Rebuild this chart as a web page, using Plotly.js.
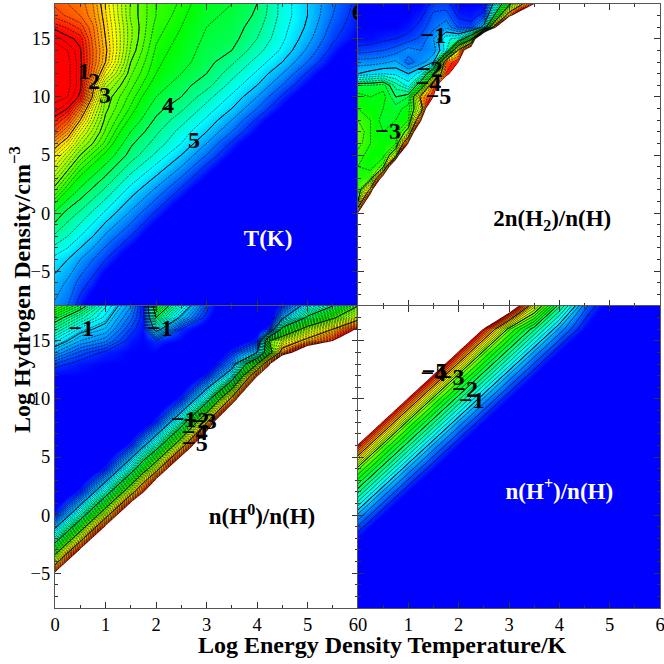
<!DOCTYPE html>
<html><head><meta charset="utf-8">
<script src="https://cdn.plot.ly/plotly-3.0.1.min.js"></script>
<style>html,body{margin:0;padding:0;background:#fff}#c{width:664px;height:664px}</style>
</head><body><div id="c"></div>
<script>
var xT=[0,.25,.5,.75,1,1.5,2,2.5,3,3.5,4,4.5,5,5.5,6];
var yT=[-8,-6,-4,-2,0,2,4,5,6,7,8,9,10,11,12,13,14,15,16,17,18];
var zT=[
[5.3,5.5,5.9,6.3,6.9,7.4,7.4,7.4,7.4,7.4,7.4,7.4,7.4,7.4,7.4],
[5.1,5.3,5.6,5.85,6.3,6.9,7.4,7.4,7.4,7.4,7.4,7.4,7.4,7.4,7.4],
[4.85,5,5.25,5.5,5.75,6.35,6.9,7.4,7.4,7.4,7.4,7.4,7.4,7.4,7.4],
[4.3,4.5,4.75,5,5.3,5.75,6.35,6.9,7.4,7.4,7.4,7.4,7.4,7.4,7.4],
[3.8,4.1,4.3,4.55,4.8,5.3,5.8,6.35,6.9,7.4,7.4,7.4,7.4,7.4,7.4],
[3.1,3.5,3.8,4.05,4.3,4.85,5.3,5.8,6.35,6.9,7.4,7.4,7.4,7.4,7.4],
[2.5,2.9,3.3,3.55,3.8,4.35,4.8,5.25,5.8,6.35,6.9,7.4,7.4,7.4,7.4],
[2.2,2.6,3,3.3,3.55,4.1,4.55,5,5.5,6.05,6.6,7.1,7.4,7.4,7.4],
[1.85,2.2,2.7,3,3.3,3.95,4.35,4.75,5.25,5.8,6.35,6.9,7.4,7.4,7.4],
[1.4,1.8,2.4,2.8,3.15,3.75,4.2,4.6,5,5.5,6.05,6.6,7.1,7.4,7.4],
[1.1,1.4,2,2.6,3.05,3.55,4.05,4.4,4.8,5.25,5.8,6.35,6.9,7.4,7.4],
[.8,1,1.6,2.4,2.95,3.4,3.9,4.2,4.6,5,5.5,6.05,6.6,7.1,7.4],
[.7,.75,1.05,2.05,2.9,3.3,3.75,4,4.4,4.8,5.25,5.8,6.35,6.9,7.4],
[.65,.7,.95,1.9,2.7,3.2,3.6,3.9,4.15,4.6,5,5.5,6.05,6.6,7.1],
[.65,.7,.95,1.6,2.3,3.1,3.5,3.75,4,4.4,4.8,5.25,5.8,6.35,6.9],
[.65,.7,.95,1.5,2,3,3.45,3.65,3.9,4.2,4.6,5,5.5,6.05,6.6],
[.65,.75,.98,1.5,1.95,2.9,3.4,3.6,3.85,4,4.4,4.8,5.3,5.85,6.35],
[.8,.95,1.05,1.55,2,2.85,3.35,3.55,3.8,3.9,4.25,4.7,5.15,5.7,6.05],
[1.05,1.15,1.3,1.6,2.05,2.85,3.3,3.5,3.75,3.85,4.15,4.65,5.05,5.6,5.95],
[1.3,1.4,1.5,1.7,2.1,2.9,3.25,3.45,3.7,3.8,4.05,4.6,5,5.5,5.9],
[1.4,1.5,1.55,1.75,2.15,2.9,3.25,3.4,3.65,3.75,4,4.6,5,5.45,5.85]];

var xH2=[0,.25,.5,.75,1,1.25,1.5,1.75,2,2.25,2.5,3,3.5,4,6];
var yH2=[-8,-1,0,1,2,3,4,5,6,7,8,9,10,11,12,13,14,15,16,17,18];
var zH2=[
[-9,-9,-9,-9,-9,-9,-9,-9,-9,-9,-9,-9,-9,-9,-9],
[-9,-9,-9,-9,-9,-9,-9,-9,-9,-9,-9,-9,-9,-9,-9],
[-5,-9,-9,-9,-9,-9,-9,-9,-9,-9,-9,-9,-9,-9,-9],
[-3,-6.3,-9,-9,-9,-9,-9,-9,-9,-9,-9,-9,-9,-9,-9],
[-2.7,-4.2,-9,-9,-9,-9,-9,-9,-9,-9,-9,-9,-9,-9,-9],
[-2.6,-2.8,-5.5,-9,-9,-9,-9,-9,-9,-9,-9,-9,-9,-9,-9],
[-2.6,-2.5,-2.9,-7,-9,-9,-9,-9,-9,-9,-9,-9,-9,-9,-9],
[-2.7,-2.5,-2.5,-3.5,-9,-9,-9,-9,-9,-9,-9,-9,-9,-9,-9],
[-2.9,-2.6,-2.5,-2.6,-5,-9,-9,-9,-9,-9,-9,-9,-9,-9,-9],
[-3,-2.6,-2.4,-2.5,-3.2,-7,-9,-9,-9,-9,-9,-9,-9,-9,-9],
[-2.8,-2.6,-2.3,-2.4,-2.6,-4.8,-9,-9,-9,-9,-9,-9,-9,-9,-9],
[-2.6,-2.5,-2.4,-2.3,-2.5,-3.6,-7,-9,-9,-9,-9,-9,-9,-9,-9],
[-2.5,-2.4,-2.5,-2,-2.2,-4.2,-5,-9,-9,-9,-9,-9,-9,-9,-9],
[-2.2,-2.2,-2.3,-1.7,-1.3,-2.4,-4.7,-5.7,-9,-9,-9,-9,-9,-9,-9],
[-1,-1.1,-1.2,-1.15,-1,-1.3,-2.8,-4.8,-5.5,-9,-9,-9,-9,-9,-9],
[-.7,-.7,-.75,-.85,-.5,-.7,-1,-4.6,-5,-9,-9,-9,-9,-9,-9],
[-.3,-.35,-.4,-.5,-.7,-.6,-.7,-1.3,-4.2,-6,-9,-9,-9,-9,-9],
[-.05,-.05,-.15,-.2,-.3,-.45,-.8,-1.35,-1.5,-2.8,-9,-9,-9,-9,-9],
[0,0,0,0,-.1,-.3,-.55,-.75,-.35,-.3,-1.2,-9,-9,-9,-9],
[0,0,0,0,0,-.15,-.45,-.5,-.15,-.1,-.3,-4.5,-9,-9,-9],
[0,0,0,0,0,0,-.3,-.3,0,0,0,-2.8,-5,-9,-9]];

var xH0=[0,.5,1,1.5,1.75,2,2.5,3,3.5,4,4.25,4.5,5,5.5,6];
var yH0=[-8,-6,-4,-2,0,2,4,6,8,10,12,13,14,15,16,17,18];
var zH0=[
[-9,-9,-9,-9,-9,-9,-9,-9,-9,-9,-9,-9,-9,-9,-9],
[-6.6,-9,-9,-9,-9,-9,-9,-9,-9,-9,-9,-9,-9,-9,-9],
[-3.6,-6.6,-9,-9,-9,-9,-9,-9,-9,-9,-9,-9,-9,-9,-9],
[-1.6,-3.6,-6.6,-9,-9,-9,-9,-9,-9,-9,-9,-9,-9,-9,-9],
[-.2,-1.6,-3.6,-6.6,-8,-9,-9,-9,-9,-9,-9,-9,-9,-9,-9],
[.6,-.2,-1.6,-3.6,-4.9,-6.6,-9,-9,-9,-9,-9,-9,-9,-9,-9],
[1.2,.6,-.2,-1.6,-2.6,-3.6,-6.6,-9,-9,-9,-9,-9,-9,-9,-9],
[1.2,1.2,.6,-.2,-.9,-1.6,-3.6,-6.6,-9,-9,-9,-9,-9,-9,-9],
[1.2,1.2,1.2,.6,.3,-.2,-1.6,-3.9,-7.5,-9,-9,-9,-9,-9,-9],
[1.2,1.2,1.2,.8,.8,.6,-.2,-1.6,-4.2,-8,-9,-9,-9,-9,-9],
[0,0,.1,.2,.2,.2,.6,-.2,-1.4,-4.9,-6,-9,-9,-9,-9],
[-.3,-.1,0,0,0,0,.6,.3,-.7,-3,-4.9,-7,-9,-9,-9],
[-.8,-.4,-.15,0,0,0,.6,.6,-.2,-1,-2.7,-4.3,-6,-9,-9],
[-1.2,-.8,-.6,-.1,0,-.2,0,.6,.3,-.2,-3,-3.5,-4.2,-4.95,-7],
[-1.7,-1.1,-.9,-.3,-.05,-1.2,-.2,.2,.6,.2,-.3,-2.2,-3.3,-4,-5.1],
[-2.2,-1.6,-1.1,-.5,-.1,-2,-.9,-.1,.6,.6,.2,-.9,-2.1,-2.9,-3.7],
[-2.8,-2.2,-1.3,-.7,-.05,-2.6,-1.4,-.3,.6,.6,.3,-.2,-1.3,-2,-3]];

var xHp=[0,.5,1,1.5,2,2.5,3,3.5,4,4.5,5,5.5,6];
var yHp=[-8,-6,-4,-2,0,2,4,6,8,10,12,14,16,18];
var zHp=[
[1.5,1.5,1.5,1.5,1.5,1.5,1.5,1.5,1.5,1.5,1.5,1.5,1.5],
[1.5,1.5,1.5,1.5,1.5,1.5,1.5,1.5,1.5,1.5,1.5,1.5,1.5],
[.75,1.5,1.5,1.5,1.5,1.5,1.5,1.5,1.5,1.5,1.5,1.5,1.5],
[0,.75,1.5,1.5,1.5,1.5,1.5,1.5,1.5,1.5,1.5,1.5,1.5],
[-.75,0,.75,1.5,1.5,1.5,1.5,1.5,1.5,1.5,1.5,1.5,1.5],
[-1.85,-.75,0,.75,1.5,1.5,1.5,1.5,1.5,1.5,1.5,1.5,1.5],
[-2.85,-1.85,-.75,0,.75,1.5,1.5,1.5,1.5,1.5,1.5,1.5,1.5],
[-4.9,-2.85,-1.85,-.75,0,.75,1.5,1.5,1.5,1.5,1.5,1.5,1.5],
[-7,-4.9,-2.85,-1.85,-.75,0,.75,1.5,1.5,1.5,1.5,1.5,1.5],
[-9,-7,-4.9,-2.85,-1.85,-.75,0,.75,1.5,1.5,1.5,1.5,1.5],
[-9,-9,-7,-4.9,-2.85,-1.85,-.75,0,.75,1.5,1.5,1.5,1.5],
[-9,-9,-9,-7,-4.9,-2.85,-1.85,-.75,0,.75,1.5,1.5,1.5],
[-9,-9,-9,-9,-7,-4.9,-2.85,-1.85,-.75,0,.75,1.5,1.5],
[-9,-9,-9,-9,-9,-9,-5.9,-3.5,-1.85,-.5,.2,.9,1.5]];

var labT={x:[.57,.77,.99,2.24,2.75,6],y:[12.1,11.2,10,9.1,6.1,17.1],t:['1','2','3','4','5','6']};
var labH2={x:[1.5,1.43,.6,1.4,1.6],y:[15.2,12.2,6.9,11,9.9],t:['\u22121','\u22122','\u22123','\u22124','\u22125']};
var labH0={x:[.52,2.08,2.55,2.8,2.95,2.77,2.77],y:[15.9,15.9,8.1,8,7.9,7,6],t:['\u22121','\u22121','\u22121','\u22122','\u22123','\u22124','\u22125']};
var labHp={x:[1.5,1.52,1.86,2.13,2.26],y:[12.1,12.2,11.7,10.7,9.7],t:['\u22124','\u22125','\u22123','\u22122','\u22121']};
var names=['T(K)','2n(H<sub>2</sub>)/n(H)','n(H<sup>0</sup>)/n(H)','n(H<sup>+</sup>)/n(H)'];
var nameX=[4.22,3.86,4.1,4.0], nameY=[-2.3,-.6,-.3,1.9], nameC=['#fff','#000','#000','#fff'];
var xTitle='Log Energy Density Temperature/K', yTitle='Log Hydrogen Density/cm<sup>\u22123</sup>';
var tickVals=[0,1,2,3,4,5,6];
var tickLeft=['0','1','2','3','4','5','6\u00a0\u00a0'];
var tickRight=['\u00a0\u00a00','1','2','3','4','5','6'];

var FONT='Liberation Serif';
var rainbow=[[0,'rgb(255,0,0)'],[.25,'rgb(255,255,0)'],[.5,'rgb(0,255,0)'],[.75,'rgb(0,255,255)'],[1,'rgb(0,0,255)']];
var traces=[];
function panel(n,x,y,z,lab,o){
  var xa='x'+(n==1?'':n), ya='y'+(n==1?'':n);
  traces.push({type:'contour',x:x,y:y,z:z,xaxis:xa,yaxis:ya,zmin:o.zmin,zmax:o.zmax,zauto:false,colorscale:rainbow,showscale:false,zsmooth:'best',
    autocontour:false,contours:{coloring:'heatmap',showlines:true,start:o.start,end:o.end,size:o.size},
    line:{color:'#000',width:.6,smoothing:0,dash:o.dash},hoverinfo:'skip'});
  if(o.extra){
    traces.push({type:'contour',x:x,y:y,z:z,xaxis:xa,yaxis:ya,showscale:false,autocontour:false,
      contours:{coloring:'none',showlines:true,start:o.extra[0],end:o.extra[1],size:o.extra[2]},
      line:{color:'#000',width:.6,smoothing:0,dash:o.dash},hoverinfo:'skip'});
  }
  traces.push({type:'contour',x:x,y:y,z:z,xaxis:xa,yaxis:ya,showscale:false,autocontour:false,
    contours:{coloring:'none',showlines:true,start:o.mstart,end:o.mend,size:1},
    line:{color:'#000',width:1,smoothing:0},hoverinfo:'skip'});
  if(o.mask){
    traces.push({type:'contour',x:x,y:y,z:z,xaxis:xa,yaxis:ya,showscale:false,
      contours:{type:'constraint',operation:'>',value:-5},fillcolor:'#fff',
      line:{width:0,smoothing:0},hoverinfo:'skip'});
  }
  traces.push({type:'scatter',mode:'text',x:lab.x,y:lab.y,text:lab.t,xaxis:xa,yaxis:ya,cliponaxis:true,
    textposition:'middle center',textfont:{family:FONT,size:24,color:'#000',weight:'bold'},hoverinfo:'skip',showlegend:false});
  traces.push({type:'scatter',mode:'text',x:[nameX[n-1]],y:[nameY[n-1]],text:['<b>'+names[n-1]+'</b>'],xaxis:xa,yaxis:ya,
    textposition:'middle center',textfont:{family:FONT,size:23,color:nameC[n-1]},hoverinfo:'skip',showlegend:false});
}
var DOT='2px,1px';
panel(1,xT,yT,zT,labT,{zmin:1,zmax:6,start:.75,end:5.75,size:.25,mstart:1,mend:5,mask:false,dash:DOT,extra:[.875,3.375,.25]});
panel(2,xH2,yH2,zH2,labH2,{zmin:-5,zmax:0,start:-5,end:-.2,size:.2,mstart:-5,mend:-1,mask:true,dash:DOT});
panel(3,xH0,yH0,zH0,labH0,{zmin:-5,zmax:0,start:-5,end:-.2,size:.12,mstart:-5,mend:-1,mask:true,dash:DOT});
panel(4,xHp,yHp,zHp,labHp,{zmin:-5,zmax:0,start:-5,end:-.2,size:.2,mstart:-5,mend:-1,mask:true,dash:'solid'});

var W=664,H=664;
var dx=[[55/W,358/W],[358/W,660/W]], dy=[[(H-608)/H,(H-306)/H],[(H-306)/H,(H-4)/H]];
function xax(d,anchor,labels,txt){return {domain:d,anchor:anchor,range:[0,6],tickmode:'array',tickvals:tickVals,ticktext:txt,ticks:'inside',ticklen:6,tickwidth:1,tickcolor:'#333',
  minor:{dtick:.5,ticks:'inside',ticklen:3,tickwidth:1,tickcolor:'#333'},mirror:'allticks',showline:true,linecolor:'#555',linewidth:1,showgrid:false,zeroline:false,
  showticklabels:labels,ticklabeloverflow:'allow',tickfont:{family:FONT,size:18.5,color:'#000'},layer:'above traces'};}
function yax(d,anchor,labels){return {domain:d,anchor:anchor,range:[-8,18],dtick:5,tick0:0,ticks:'inside',ticklen:6,tickwidth:1,tickcolor:'#333',
  minor:{dtick:1,ticks:'inside',ticklen:3,tickwidth:1,tickcolor:'#333'},mirror:'allticks',showline:true,linecolor:'#555',linewidth:1,showgrid:false,zeroline:false,
  showticklabels:labels,ticklabeloverflow:'allow',tickfont:{family:FONT,size:18.5,color:'#000'},layer:'above traces'};}
var layout={width:W,height:H,margin:{l:0,r:0,t:0,b:0},paper_bgcolor:'#fff',plot_bgcolor:'#fff',showlegend:false,
  xaxis:xax(dx[0],'y',false,tickLeft),yaxis:yax(dy[1],'x',true),
  xaxis2:xax(dx[1],'y2',false,tickRight),yaxis2:yax(dy[1],'x2',false),
  xaxis3:xax(dx[0],'y3',true,tickLeft),yaxis3:yax(dy[0],'x3',true),
  xaxis4:xax(dx[1],'y4',true,tickRight),yaxis4:yax(dy[0],'x4',false),
  annotations:[
   {xref:'paper',yref:'paper',x:383/W,y:(H-645)/H,xanchor:'center',yanchor:'middle',showarrow:false,text:'<b>'+xTitle+'</b>',font:{family:FONT,size:24,color:'#000'}},
   {xref:'paper',yref:'paper',x:20/W,y:(H-290)/H,xanchor:'center',yanchor:'middle',showarrow:false,textangle:-90,text:'<b>'+yTitle+'</b>',font:{family:FONT,size:24,color:'#000'}}
  ]};
Plotly.newPlot('c',traces,layout,{displayModeBar:false,staticPlot:true});
</script></body></html>
